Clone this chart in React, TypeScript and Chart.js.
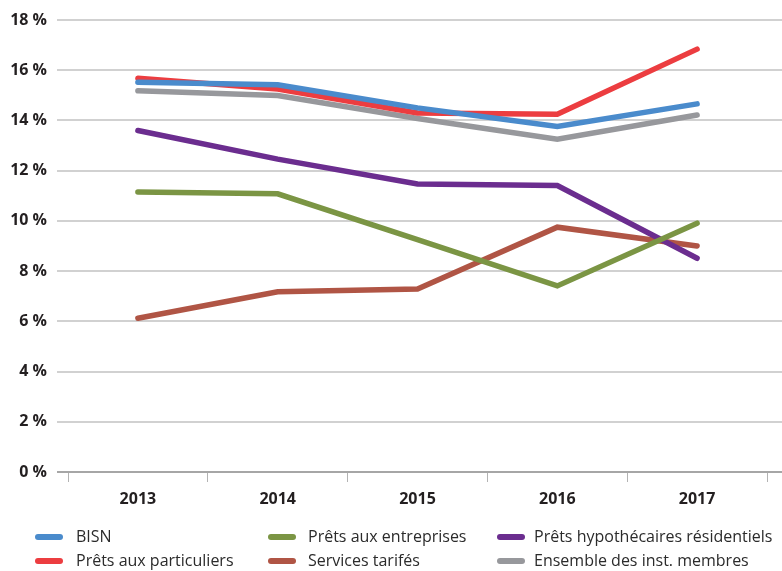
import React, { useEffect, useRef } from 'react';
import { Chart, registerables } from 'chart.js';

Chart.register(...registerables);

const categories = ['2013', '2014', '2015', '2016', '2017'];
const seriesLabels = [
  'BISN',
  'Prêts aux particuliers',
  'Prêts aux entreprises',
  'Services tarifés',
  'Prêts hypothécaires résidentiels',
  'Ensemble des inst. membres',
];
const bisn = [15.52, 15.42, 14.5, 13.76, 14.66];
const pretsParticuliers = [15.68, 15.25, 14.3, 14.25, 16.84];
const pretsEntreprises = [11.15, 11.08, 9.25, 7.41, 9.91];
const servicesTarifes = [6.12, 7.18, 7.29, 9.75, 9.0];
const pretsHypothecaires = [13.6, 12.46, 11.47, 11.41, 8.51];
const ensembleMembres = [15.18, 14.99, 14.08, 13.25, 14.22];
const yTicks = [0, 2, 4, 6, 8, 10, 12, 14, 16, 18];

const seriesValues = [bisn, pretsParticuliers, pretsEntreprises, servicesTarifes, pretsHypothecaires, ensembleMembres];
const seriesColors = ['#4a8bcc', '#ec3d40', '#7b9544', '#b05545', '#6b2d8f', '#97989c'];
const seriesOrder = [1, 2, 3, 5, 4, 6];

const FONT = '"Open Sans", "DejaVu Sans", sans-serif';
const TEXT = '#231f20';

export default function App() {
  const ref = useRef<HTMLCanvasElement>(null);

  useEffect(() => {
    const canvas = ref.current;
    if (!canvas) return;

    const gridPlugin = {
      id: 'customGrid',
      beforeDatasetsDraw(chart: any) {
        const ctx = chart.ctx;
        const y = chart.scales.y;
        ctx.save();
        yTicks.forEach((v) => {
          const py = Math.round(y.getPixelForValue(v));
          ctx.strokeStyle = v === 0 ? '#a6a6a6' : '#c2c2c2';
          ctx.lineWidth = v === 0 ? 2 : 1.4;
          ctx.beginPath();
          ctx.moveTo(57, py);
          ctx.lineTo(782, py);
          ctx.stroke();
        });
        ctx.restore();
      },
    };

    const legendPlugin = {
      id: 'gridLegend',
      afterDraw(chart: any) {
        const ctx = chart.ctx;
        const cols = [
          [35, 76],
          [268, 308],
          [497, 534],
        ];
        const rows = [537, 561];
        ctx.save();
        chart.data.datasets.forEach((ds: any, i: number) => {
          const c = cols[Math.floor(i / 2)];
          const ry = rows[i % 2];
          ctx.strokeStyle = ds.borderColor;
          ctx.lineWidth = 6;
          ctx.lineCap = 'round';
          ctx.beginPath();
          ctx.moveTo(c[0] + 3, ry);
          ctx.lineTo(c[0] + 25, ry);
          ctx.stroke();
          ctx.fillStyle = '#2b2b2b';
          ctx.font = `400 16px ${FONT}`;
          ctx.textBaseline = 'middle';
          ctx.textAlign = 'left';
          ctx.fillText(ds.label, c[1], ry);
        });
        ctx.restore();
      },
    };

    const chart = new Chart(canvas, {
      type: 'line',
      data: {
        labels: categories,
        datasets: seriesLabels.map((label, i) => ({
          label,
          data: seriesValues[i],
          borderColor: seriesColors[i],
          backgroundColor: seriesColors[i],
          borderWidth: 5.5,
          borderCapStyle: 'round',
          borderJoinStyle: 'miter',
          pointRadius: 0,
          tension: 0,
          order: seriesOrder[i],
        })),
      },
      options: {
        responsive: false,
        animation: false,
        layout: { padding: { top: 20, right: 15, bottom: 54, left: 0 } },
        plugins: {
          legend: { display: false },
          tooltip: { enabled: false },
        },
        scales: {
          x: {
            type: 'category',
            offset: true,
            grid: {
              display: true,
              drawOnChartArea: false,
              drawTicks: true,
              tickLength: 10,
              offset: true,
              color: '#b3b3b3',
              lineWidth: 1,
            },
            border: { display: false },
            ticks: {
              padding: 8,
              color: TEXT,
              font: { family: FONT, size: 16, weight: 700 },
            },
            afterFit: (scale: any) => {
              scale.height = 45;
            },
          },
          y: {
            min: 0,
            max: 18,
            grid: { display: false, drawTicks: false },
            border: { display: false },
            ticks: {
              stepSize: 2,
              padding: 21,
              color: TEXT,
              font: { family: FONT, size: 16, weight: 700 },
              callback: (v: any) => `${v} %`,
            },
            afterFit: (scale: any) => {
              scale.width = 68;
              scale.paddingTop = 0;
            },
          },
        },
      },
      plugins: [gridPlugin, legendPlugin],
    } as any);

    return () => chart.destroy();
  }, []);

  return (
    <div style={{ position: 'fixed', left: 0, top: 0, width: 782, height: 571, background: '#ffffff' }}>
      <canvas ref={ref} width={782} height={571} />
    </div>
  );
}
